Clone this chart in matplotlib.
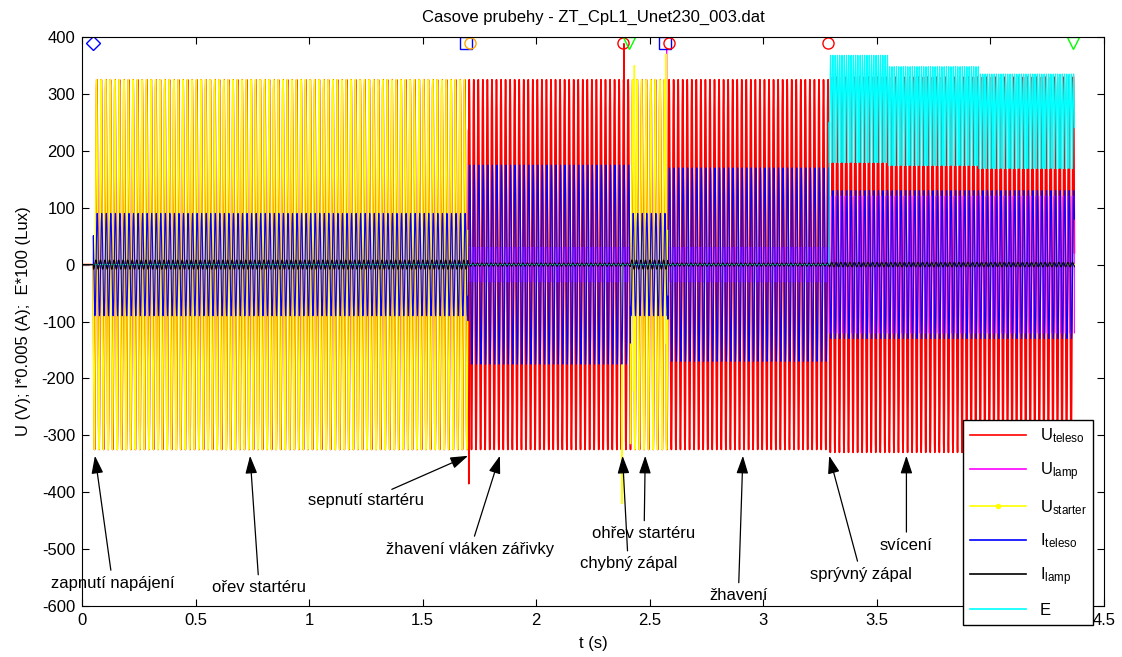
import numpy as np
import matplotlib.pyplot as plt
from matplotlib.lines import Line2D

plt.rcParams['font.family'] = ['Liberation Sans', 'DejaVu Sans']
plt.rcParams['axes.unicode_minus'] = False

# time segments (s): off, starter glow, filament heating,
# failed ignition, starter glow, heating, lit (split to follow light decay)
seg_start = [0.00, 0.05, 1.70, 2.38, 2.415, 2.58, 3.29, 3.55, 3.95]
seg_end = [0.05, 1.70, 2.38, 2.415, 2.58, 3.29, 3.55, 3.95, 4.37]

# peak values per segment
amp_u_teleso = [0, 325, 325, 325, 325, 325, 330, 330, 330]
amp_u_lamp = [0, 5, 30, 30, 5, 30, 120, 120, 120]
amp_u_starter = [0, 325, 0, 0, 325, 0, 0, 0, 0]
amp_i_teleso = [0, 90, 175, 175, 90, 170, 130, 130, 130]
amp_i_lamp = [0, 8, 3, 3, 8, 3, 4, 4, 4]
e_low = [0, 0, 0, 0, 0, 0, 175, 170, 165]
e_high = [0, 0, 0, 0, 0, 0, 368, 348, 335]

# single spikes (time, value)
spike_u_teleso_t = [1.703, 2.386]
spike_u_teleso_v = [-385, 388]
spike_u_starter_t = [2.378, 2.432, 2.571]
spike_u_starter_v = [-420, 350, 370]
spike_u_lamp_t = [2.574]
spike_u_lamp_v = [380]

# event markers along the top
t_power_on = [0.048]
t_starter_close = [1.69, 2.568]
t_starter_open = [1.71]
t_ignition = [2.383, 2.583, 3.285]
t_stop = [2.41, 4.365]
y_events = 389

fs = 5000
f = 50.0
t = np.arange(0, seg_end[-1], 1 / fs)
seg = np.clip(np.searchsorted(seg_end, t, side='right'), 0, len(seg_end) - 1)
w = 2 * np.pi * f * t


def amp(vals):
    return np.array(vals, dtype=float)[seg]


def add_spikes(sig, times, vals):
    for ts, v in zip(times, vals):
        i = int(round(ts * fs))
        sig[i - 1:i + 2] = v
    return sig


u_teleso = add_spikes(amp(amp_u_teleso) * np.sin(w), spike_u_teleso_t, spike_u_teleso_v)
u_lamp = add_spikes(amp(amp_u_lamp) * np.sign(np.sin(w + 0.3)), spike_u_lamp_t, spike_u_lamp_v)
u_starter = add_spikes(amp(amp_u_starter) * np.sin(w + 0.25), spike_u_starter_t, spike_u_starter_v)
i_teleso = amp(amp_i_teleso) * np.sin(w - 0.6)
i_lamp = amp(amp_i_lamp) * np.sin(w + 1.2)
e_light = amp(e_low) + (amp(e_high) - amp(e_low)) * np.abs(np.sin(w - 0.4))

fig = plt.figure(figsize=(11.22, 6.57), dpi=100)
ax = fig.add_axes([82 / 1122, 51 / 657, 1022 / 1122, 569 / 657])

ax.plot(t, u_teleso, color='red', lw=1.2)
ax.plot(t, u_lamp, color='magenta', lw=0.8)
ax.plot(t, u_starter, color='yellow', lw=1.0)
ax.plot(t, i_teleso, color='blue', lw=0.8)
ax.plot(t, e_light, color='cyan', lw=0.8)
ax.plot(t, i_lamp, color='black', lw=0.8)

ms = 8
ax.plot(t_power_on, [y_events] * len(t_power_on), 'D', mfc='none', mec='blue', ms=7)
ax.plot(t_starter_close, [y_events] * len(t_starter_close), 's', mfc='none', mec='blue', ms=ms)
ax.plot(t_starter_open, [y_events] * len(t_starter_open), 'o', mfc='none', mec='orange', ms=ms)
ax.plot(t_ignition, [y_events] * len(t_ignition), 'o', mfc='none', mec='red', ms=ms)
ax.plot(t_stop, [y_events] * len(t_stop), 'v', mfc='none', mec='lime', ms=ms)

ax.set_xlim(0, 4.5)
ax.set_ylim(-600, 400)
ax.set_xticks(np.arange(0, 4.51, 0.5))
ax.set_xticklabels(['0', '0.5', '1', '1.5', '2', '2.5', '3', '3.5', '4', '4.5'])
ax.set_yticks(np.arange(-600, 401, 100))
ax.tick_params(direction='in', top=True, right=True, labelsize=12, length=5, pad=5)
ax.set_xlabel('t (s)', fontsize=12, labelpad=6)
ax.set_ylabel('U (V); I*0.005 (A);  E*100 (Lux)', fontsize=12, labelpad=8)
ax.set_title('Casove prubehy - ZT_CpL1_Unet230_003.dat', fontsize=12, pad=11)

arrow = dict(arrowstyle='-|>,head_length=0.9,head_width=0.3', color='black',
             lw=0.9, shrinkA=2, shrinkB=0)
notes = [
    ('zapnutí napájení', (0.057, -336), (0.135, -560)),
    ('ořev startéru', (0.74, -336), (0.78, -568)),
    ('sepnutí startéru', (1.70, -336), (1.25, -415)),
    ('žhavení vláken zářivky', (1.84, -336), (1.71, -500)),
    ('chybný zápal', (2.38, -336), (2.405, -526)),
    ('ohřev startéru', (2.48, -336), (2.475, -473)),
    ('žhavení', (2.91, -336), (2.89, -582)),
    ('sprývný zápal', (3.29, -336), (3.43, -544)),
    ('svícení', (3.63, -336), (3.63, -493)),
]
for txt, tip, pos in notes:
    ax.annotate(txt, xy=tip, xytext=pos, ha='center', va='center', fontsize=12,
                arrowprops=arrow)

handles = [
    Line2D([], [], color='red', lw=1.2),
    Line2D([], [], color='magenta', lw=1.2),
    Line2D([], [], color='yellow', lw=1.2, marker='.', ms=6),
    Line2D([], [], color='blue', lw=1.2),
    Line2D([], [], color='black', lw=1.2),
    Line2D([], [], color='cyan', lw=1.2),
]
labels = [r'$\mathregular{U_{teleso}}$', r'$\mathregular{U_{lamp}}$',
          r'$\mathregular{U_{starter}}$', r'$\mathregular{I_{teleso}}$',
          r'$\mathregular{I_{lamp}}$', 'E']
leg = ax.legend(handles, labels, loc='upper left', bbox_to_anchor=(963 / 1122, 237 / 657),
                bbox_transform=fig.transFigure, borderaxespad=0, fontsize=12,
                handlelength=3.4, labelspacing=0.9, fancybox=False, framealpha=1,
                edgecolor='black')
leg.get_frame().set_linewidth(1)

fig.savefig('out.png', dpi=100)
